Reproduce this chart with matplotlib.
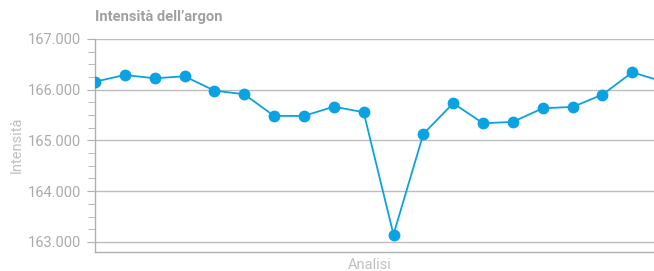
import matplotlib
matplotlib.use("Agg")
import matplotlib.pyplot as plt
from matplotlib.ticker import MultipleLocator, FuncFormatter

plt.rcParams['font.family'] = ['Roboto', 'DejaVu Sans']

analisi = list(range(20))
intensita = [166158, 166291, 166225, 166265, 165982, 165911, 165483, 165483,
             165666, 165556, 163144, 165128, 165733, 165339, 165365, 165635,
             165660, 165903, 166343, 166165]

W, H = 654, 271
fig = plt.figure(figsize=(W/100, H/100), dpi=100)
ax = fig.add_axes([95/W, (H-252)/H, (654-95)/W, (252-39)/H])

blue = '#0aa2e2'
ax.plot(analisi, intensita, color=blue, lw=1.3, marker='o', ms=8.5,
        markeredgewidth=0, zorder=3)

ax.set_xlim(0, (654-95)/29.85)
ax.set_ylim(162800, 167000)
ax.yaxis.set_major_locator(MultipleLocator(1000))
ax.yaxis.set_minor_locator(MultipleLocator(250))
ax.yaxis.set_major_formatter(FuncFormatter(lambda v, p: f"{v:,.0f}".replace(",", ".")))
ax.set_xticks([])
ax.grid(axis='y', which='major', color='#bdbdbd', lw=1.0)
ax.set_axisbelow(True)
for s in ['top', 'right']:
    ax.spines[s].set_visible(False)
for s in ['left', 'bottom']:
    ax.spines[s].set_color('#b0b0b0')
    ax.spines[s].set_linewidth(1.0)
ax.tick_params(axis='y', which='major', length=6, color='#b0b0b0',
               labelcolor='#ababab', labelsize=10.5, pad=4)
ax.tick_params(axis='y', which='minor', length=5, color='#b0b0b0')

fig.text(95/W, 1-17.5/H, "Intensità dell’argon", fontsize=10.6, fontweight='bold',
         color='#a0a0a0', ha='left', va='center')
fig.text(17/W, 1-145/H, "Intensità", rotation=90, fontsize=10.5, color='#c0c0c0',
         ha='center', va='center')
fig.text(370/W, 1-265/H, "Analisi", fontsize=10.5, color='#c0c0c0',
         ha='center', va='center')

fig.savefig("out.png", dpi=100)
